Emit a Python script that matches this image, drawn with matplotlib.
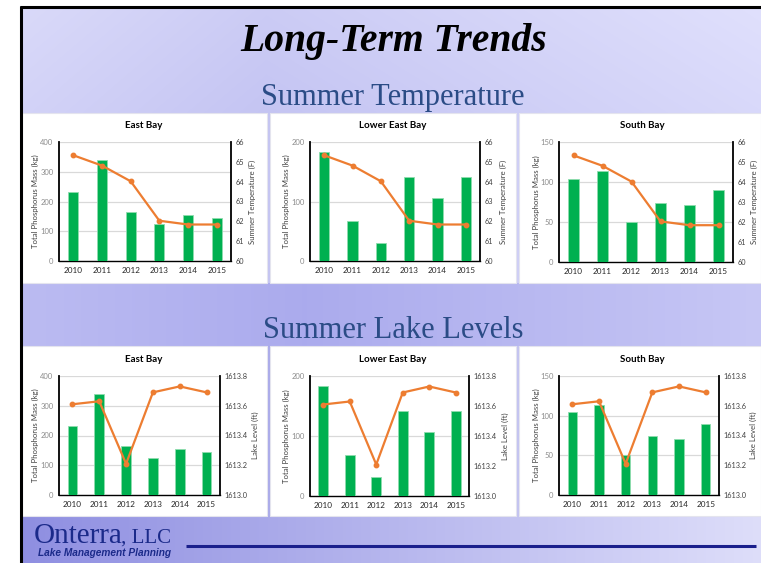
import numpy as np
import matplotlib
matplotlib.use("Agg")
import matplotlib.pyplot as plt
from matplotlib.patches import Rectangle

# ---------------- data ----------------
years = ['2010', '2011', '2012', '2013', '2014', '2015']
bays = ['East Bay', 'Lower East Bay', 'South Bay']
tp_east = [233, 338, 166, 123, 156, 143]
tp_lower = [183, 68, 31, 142, 106, 141]
tp_south = [104, 114, 50, 74, 71, 90]
summer_temp = [65.33, 64.81, 64.02, 62.03, 61.84, 61.84]
lake_level = [1613.61, 1613.63, 1613.21, 1613.69, 1613.73, 1613.69]
tp_limits = [(0, 400, 100), (0, 200, 100), (0, 150, 50)]
temp_ticks = [60, 61, 62, 63, 64, 65, 66]
level_ticks = [1613.0, 1613.2, 1613.4, 1613.6, 1613.8]
tp_series = [tp_east, tp_lower, tp_south]

W, H = 761, 563
fig = plt.figure(figsize=(W / 100, H / 100), dpi=100)

# ---------------- background ----------------
xs = np.linspace(0, 1, W)[None, :]
ys = np.arange(H)[:, None]
img = np.ones((H, W, 3))
top_rg = np.interp(xs, [0, 0.35, 1], [0.86, 0.80, 0.88])
top_b = np.interp(xs, [0, 0.35, 1], [0.98, 0.96, 0.99])
mid_rg = np.interp(xs, [0, 0.4, 1], [0.74, 0.67, 0.78])
mid_b = np.interp(xs, [0, 0.4, 1], [0.95, 0.93, 0.96])
bot_rg = np.interp(xs, [0, 1], [0.55, 0.87])
bot_b = np.interp(xs, [0, 1], [0.88, 0.98])
vy = np.clip(ys / 113.0, 0, 1) * 0.03
for c in range(3):
    topc = (top_b if c == 2 else top_rg) - (vy if c < 2 else vy * 0.3)
    midc = mid_b if c == 2 else mid_rg
    botc = bot_b if c == 2 else bot_rg
    img[:, :, c] = np.where(ys < 283, topc, np.where(ys < 346, midc, botc))
img = np.clip(img, 0, 1)
img[:6, :, :] = 1
img[:, :20, :] = 1

bg = fig.add_axes([0, 0, 1, 1])
bg.imshow(img, extent=[0, W, H, 0], aspect='auto', interpolation='bilinear')
bg.set_xlim(0, W)
bg.set_ylim(H, 0)
bg.axis('off')

# frame lines
bg.plot([21, 21], [6, H], color='black', lw=2.2, solid_capstyle='butt')
bg.plot([20, W], [6.8, 6.8], color='black', lw=2.2, solid_capstyle='butt')

# white panels
panel_x = [(22, 267), (270, 516), (519, 761)]
rows_y = [(113, 283), (346, 516)]
for (t, b) in rows_y:
    for (l, r) in panel_x:
        bg.add_patch(Rectangle((l, t), r - l, b - t, facecolor='white',
                               edgecolor='#e4e4ee', lw=0.8))

# titles
bg.text(394, 41, 'Long-Term Trends', ha='center', va='center',
        family='Liberation Serif', weight='bold', style='italic',
        fontsize=28.5, color='black')
bg.text(393, 98, 'Summer Temperature', ha='center', va='center',
        family='Liberation Serif', fontsize=22, color='#2B4C86')
bg.text(393, 331, 'Summer Lake Levels', ha='center', va='center',
        family='Liberation Serif', fontsize=22, color='#2B4C86')

# footer
navy = '#1B2A8A'
bg.text(34, 543, 'Onterra', ha='left', va='baseline',
        family='Liberation Serif', fontsize=21, color=navy)
bg.text(121, 543, ', LLC', ha='left', va='baseline',
        family='Liberation Serif', fontsize=15, color=navy)
bg.text(38, 556, 'Lake Management Planning', ha='left', va='baseline',
        family='Liberation Sans', weight='bold', style='italic',
        fontsize=7.3, color=navy)
bg.plot([186, 756], [546, 546], color='#1A1F8C', lw=2.2, solid_capstyle='butt')

# ---------------- charts ----------------
def add_ax(l, t, r, b):
    return fig.add_axes([l / W, 1 - b / H, (r - l) / W, (b - t) / H])

axes_rows = [
    [(59, 142, 231, 261), (310, 142, 480, 261), (559, 142, 733, 262)],
    [(59, 376, 220, 495), (310, 376, 469, 496), (559, 376, 719, 495)],
]
left_lab_x = [35, 286, 536]
right_lab_x = [[252, 503, 754], [255, 505, 753]]
panel_cx = [144, 393, 642]
title_y = [126, 359]

chart_font = 'Lato'
x = np.arange(len(years))
for ri, row in enumerate(axes_rows):
    for pi, (l, t, r, b) in enumerate(row):
        ax = add_ax(l, t, r, b)
        lo, hi, step = tp_limits[pi]
        ax.bar(x, tp_series[pi], width=0.36, color='#00B050',
               edgecolor='#8fdcae', linewidth=0.6, zorder=3)
        ax.set_xlim(-0.5, len(years) - 0.5)
        ax.set_ylim(lo, hi)
        ax.set_yticks(np.arange(lo, hi + step / 2, step))
        ax.yaxis.grid(True, color='#d9d9d9', lw=0.9, zorder=0)
        ax.set_axisbelow(True)
        ax.set_xticks(x)
        ax.set_xticklabels(years)
        ax.tick_params(axis='x', length=0, pad=4, labelsize=5.9,
                       labelcolor='#262626')
        ax.tick_params(axis='y', length=0, pad=4, labelsize=5.5,
                       labelcolor='#8c8c8c')
        for lab in ax.get_xticklabels() + ax.get_yticklabels():
            lab.set_family(chart_font)
        ax.spines['top'].set_visible(False)
        ax.spines['right'].set_visible(False)
        ax.spines['left'].set_color('black')
        ax.spines['left'].set_linewidth(1.3)
        ax.spines['bottom'].set_color('black')
        ax.spines['bottom'].set_linewidth(1.0)
        ax.set_facecolor('none')

        ax2 = ax.twinx()
        if ri == 0:
            ax2.plot(x, summer_temp, color='#ED7D31', lw=1.6, marker='o',
                     ms=3.2, zorder=4)
            ax2.set_ylim(60, 66)
            ax2.set_yticks(temp_ticks)
            ax2.set_yticklabels([str(v) for v in temp_ticks])
            rlabel = 'Summer Temperature (F)'
        else:
            ax2.plot(x, lake_level, color='#ED7D31', lw=1.6, marker='o',
                     ms=3.2, zorder=4)
            ax2.set_ylim(1613.0, 1613.8)
            ax2.set_yticks(level_ticks)
            ax2.set_yticklabels(['%.1f' % v for v in level_ticks])
            rlabel = 'Lake Level (ft)'
        ax2.tick_params(axis='y', length=0, pad=3, labelsize=5.3,
                        labelcolor='#404040')
        for lab in ax2.get_yticklabels():
            lab.set_family(chart_font)
        for s in ['top', 'left', 'bottom']:
            ax2.spines[s].set_visible(False)
        ax2.spines['right'].set_color('black')
        ax2.spines['right'].set_linewidth(1.3)

        cy = (t + b) / 2
        bg.text(left_lab_x[pi], cy, 'Total Phosphorus Mass (kg)', rotation=90,
                ha='center', va='center', family=chart_font, fontsize=5.6,
                color='#404040')
        bg.text(right_lab_x[ri][pi], cy, rlabel, rotation=90,
                ha='center', va='center', family=chart_font, fontsize=5.6,
                color='#404040')
        bg.text(panel_cx[pi], title_y[ri], bays[pi], ha='center', va='center',
                family=chart_font, weight='bold', fontsize=7, color='black')

fig.savefig('out.png', dpi=100)
